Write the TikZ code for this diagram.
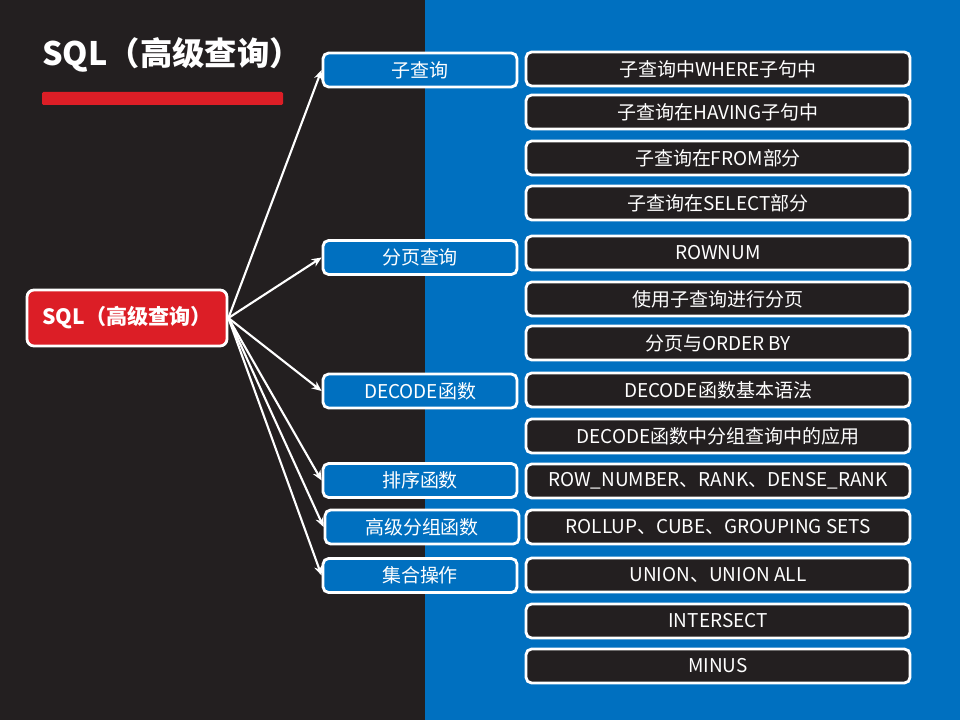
\documentclass[tikz,border=0pt]{standalone}
\usepackage{fontspec}
\setmainfont{Noto Sans CJK SC}
\usetikzlibrary{arrows.meta}
\definecolor{darkbg}{RGB}{35,31,32}
\definecolor{bluebg}{RGB}{0,112,192}
\definecolor{redbox}{RGB}{220,30,38}

\tikzset{
  rootbox/.style={draw=white, line width=2pt, fill=redbox, rounded corners=5pt,
    minimum width=5cm, minimum height=1.4cm, text=white,
    font=\fontsize{15pt}{18pt}\selectfont\bfseries},
  catbox/.style={draw=white, line width=2pt, fill=bluebg, rounded corners=4pt,
    minimum width=4.85cm, minimum height=0.85cm, inner sep=0pt, text=white,
    font=\fontsize{13.5pt}{16pt}\selectfont},
  leafbox/.style={draw=white, line width=2pt, fill=darkbg, rounded corners=4pt,
    minimum width=9.6cm, minimum height=0.85cm, inner sep=0pt, text=white,
    font=\fontsize{13.5pt}{16pt}\selectfont},
  link/.style={draw=white, line width=1.5pt, -{Stealth[length=7pt,width=6pt]}}
}

\begin{document}
\begin{tikzpicture}
    \useasboundingbox (0,0) rectangle (24cm,18cm);
    % background halves
    \fill[darkbg] (0,0) rectangle (10.625cm,18cm);
    \fill[bluebg] (10.625cm,0) rectangle (24cm,18cm);

    % title
    \node[anchor=west, text=white, inner sep=0pt, font=\fontsize{23pt}{26pt}\selectfont\bfseries] (title) at (1.05cm,16.625cm) {SQL（高级查询）};
    \fill[redbox, rounded corners=1pt] (1.05cm,15.375cm) rectangle (7.075cm,15.7cm);

    % root
    \node[rootbox] (root) at (3.175cm,10.05cm) {SQL（高级查询）};

    % categories
    \node[catbox] (sub) at (10.5cm,16.25cm) {子查询};
    \node[catbox] (page) at (10.5cm,11.5625cm) {分页查询};
    \node[catbox] (decode) at (10.5cm,8.225cm) {DECODE函数};
    \node[catbox] (rank) at (10.5cm,5.9875cm) {排序函数};
    \node[catbox] (group) at (10.55cm,4.825cm) {高级分组函数};
    \node[catbox] (set) at (10.5cm,3.6125cm) {集合操作};

    % leaves
    \node[leafbox] (where) at (17.95cm,16.275cm) {子查询中WHERE子句中};
    \node[leafbox] (having) at (17.95cm,15.2cm) {子查询在HAVING子句中};
    \node[leafbox] (from) at (17.95cm,14.05cm) {子查询在FROM部分};
    \node[leafbox] (select) at (17.95cm,12.925cm) {子查询在SELECT部分};
    \node[leafbox] (rownum) at (17.95cm,11.675cm) {ROWNUM};
    \node[leafbox] (subpage) at (17.95cm,10.525cm) {使用子查询进行分页};
    \node[leafbox] (order) at (17.95cm,9.425cm) {分页与ORDER BY};
    \node[leafbox] (basic) at (17.95cm,8.25cm) {DECODE函数基本语法};
    \node[leafbox] (usage) at (17.95cm,7.1cm) {DECODE函数中分组查询中的应用};
    \node[leafbox] (rownumber) at (17.95cm,5.975cm) {ROW\_NUMBER、RANK、DENSE\_RANK};
    \node[leafbox] (rollup) at (17.95cm,4.825cm) {ROLLUP、CUBE、GROUPING SETS};
    \node[leafbox] (union) at (17.95cm,3.625cm) {UNION、UNION ALL};
    \node[leafbox] (intersect) at (17.95cm,2.475cm) {INTERSECT};
    \node[leafbox] (minus) at (17.95cm,1.35cm) {MINUS};

    % connectors
    \draw[link] (root.east) -- (sub.west);
    \draw[link] (root.east) -- (page.west);
    \draw[link] (root.east) -- (decode.west);
    \draw[link] (root.east) -- (rank.west);
    \draw[link] (root.east) -- (group.west);
    \draw[link] (root.east) -- (set.west);
\end{tikzpicture}
\end{document}
